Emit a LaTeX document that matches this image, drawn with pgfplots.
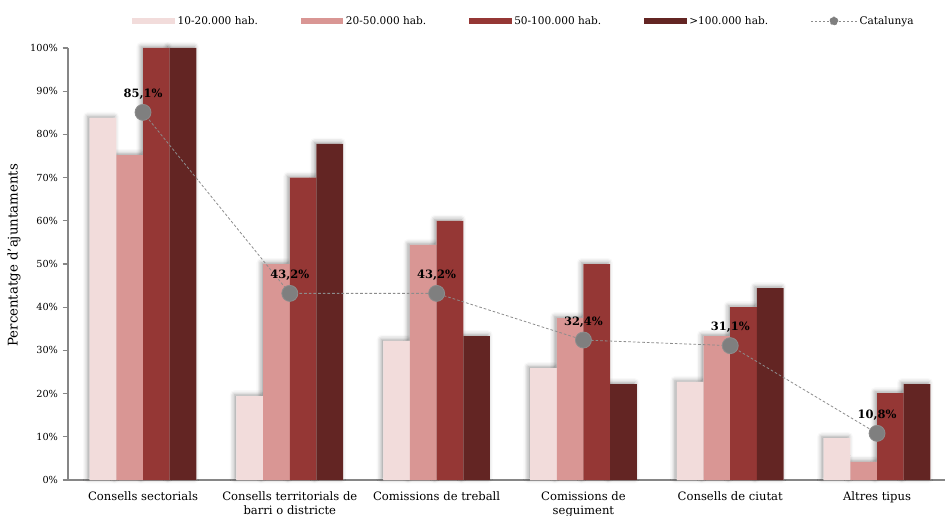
\documentclass[border=0pt]{standalone}
\usepackage{pgfplots}
\pgfplotsset{compat=1.18}
\usetikzlibrary{shadows.blur}
\usepackage{fontspec}
\setmainfont{DejaVu Serif}
\newfontfamily\timesfont{Liberation Serif}
\definecolor{cA}{HTML}{F2DCDB}
\definecolor{cB}{HTML}{D99694}
\definecolor{cC}{HTML}{953735}
\definecolor{cD}{HTML}{632523}
\definecolor{axisgray}{HTML}{868686}
\definecolor{markg}{HTML}{7F7F7F}
\definecolor{lineg}{HTML}{8C8C8C}
\pgfplotsset{
  barleg/.style={legend image code/.code={\fill[##1] (0pt,-2.6pt) rectangle (32pt,2.6pt);}},
  shadowbar/.style={ybar, bar width=20pt, fill=white, draw=none, forget plot,
    blur shadow={shadow xshift=-1.5pt, shadow yshift=1pt, shadow blur radius=3.5pt, shadow opacity=40}},
}
\pgfplotstableread{
x  a    b    c     d
0  83.8 75.2 100   100
1  19.4 50.0 70.0  77.8
2  32.2 54.4 60.0  33.3
3  25.9 37.5 50.0  22.2
4  22.7 33.3 40.0  44.4
5  9.7  4.2  20.1  22.2
}\bars
\begin{document}
\begin{tikzpicture}
\begin{axis}[
  at={(0,0)}, anchor=south west,
  scale only axis, width=657.75pt, height=324pt,
  xmin=-0.511, xmax=5.463, ymin=0, ymax=100,
  clip=false,
  axis x line*=bottom, axis y line*=left,
  axis line style={draw=axisgray, line width=0.8pt},
  xtick={0,1,2,3,4,5},
  xticklabels={Consells sectorials, {Consells territorials de\\barri o districte}, Comissions de treball, {Comissions de\\seguiment}, Consells de ciutat, Altres tipus},
  x tick style={draw=none},
  xticklabel style={align=center, font=\fontsize{8.7}{11}\selectfont, yshift=-1pt},
  ytick={0,10,...,100},
  yticklabel={\pgfmathprintnumber{\tick}\%},
  y tick style={draw=axisgray, line width=0.8pt},
  yticklabel style={font=\fontsize{7.3}{9}\selectfont},
  /pgf/number format/assume math mode=true,
  tick align=outside, major tick length=4pt,
  ylabel={Percentatge d'ajuntaments},
  ylabel style={font=\timesfont\fontsize{10.3}{12}\selectfont},
  every axis y label/.style={at={(axis description cs:-0.0616,0.52)}, rotate=90, anchor=center},
  legend columns=5,
  legend style={draw=none, fill=none, at={(axis description cs:0.073,1.0625)}, anchor=west,
    inner sep=0pt, font=\fontsize{7.9}{9}\selectfont,
    /tikz/every even column/.append style={column sep=30pt}},
]
% shadows underneath all bars
\addplot[shadowbar, bar shift=-30pt] table[x=x,y=a] {\bars};
\addplot[shadowbar, bar shift=-10pt] table[x=x,y=b] {\bars};
\addplot[shadowbar, bar shift=10pt] table[x=x,y=c] {\bars};
\addplot[shadowbar, bar shift=30pt] table[x=x,y=d] {\bars};
% bars
\addplot[ybar, bar width=20pt, bar shift=-30pt, fill=cA, draw=none, barleg] table[x=x,y=a] {\bars};
\addlegendentry{10-20.000 hab.}
\addplot[ybar, bar width=20pt, bar shift=-10pt, fill=cB, draw=none, barleg] table[x=x,y=b] {\bars};
\addlegendentry{20-50.000 hab.}
\addplot[ybar, bar width=20pt, bar shift=10pt, fill=cC, draw=none, barleg] table[x=x,y=c] {\bars};
\addlegendentry{50-100.000 hab.}
\addplot[ybar, bar width=20pt, bar shift=30pt, fill=cD, draw=none, barleg] table[x=x,y=d] {\bars};
\addlegendentry{>100.000 hab.}
\addplot[lineg, dash pattern=on 2pt off 1.5pt, line width=0.6pt,
  mark=*, mark size=6pt, mark options={solid, fill=markg, draw=none},
  nodes near coords, point meta=explicit symbolic,
  every node near coord/.style={font=\bfseries\fontsize{8.6}{10}\selectfont, anchor=base, inner sep=0pt, yshift=11pt, text=black},
  legend image code/.code={\draw[lineg, dash pattern=on 1.5pt off 1.5pt, line width=0.6pt] (0pt,0pt) -- (34pt,0pt); \fill[markg] (17pt,0pt) circle (3pt);}]
  coordinates {(0,85.1) [85{,}1\%] (1,43.2) [43{,}2\%] (2,43.2) [43{,}2\%] (3,32.4) [32{,}4\%] (4,31.1) [31{,}1\%] (5,10.8) [10{,}8\%]};
\addlegendentry{Catalunya}
\end{axis}
\pgfresetboundingbox
\path[use as bounding box] (-51pt,-26.25pt) rectangle (657.75pt,360pt);
\end{tikzpicture}
\end{document}
